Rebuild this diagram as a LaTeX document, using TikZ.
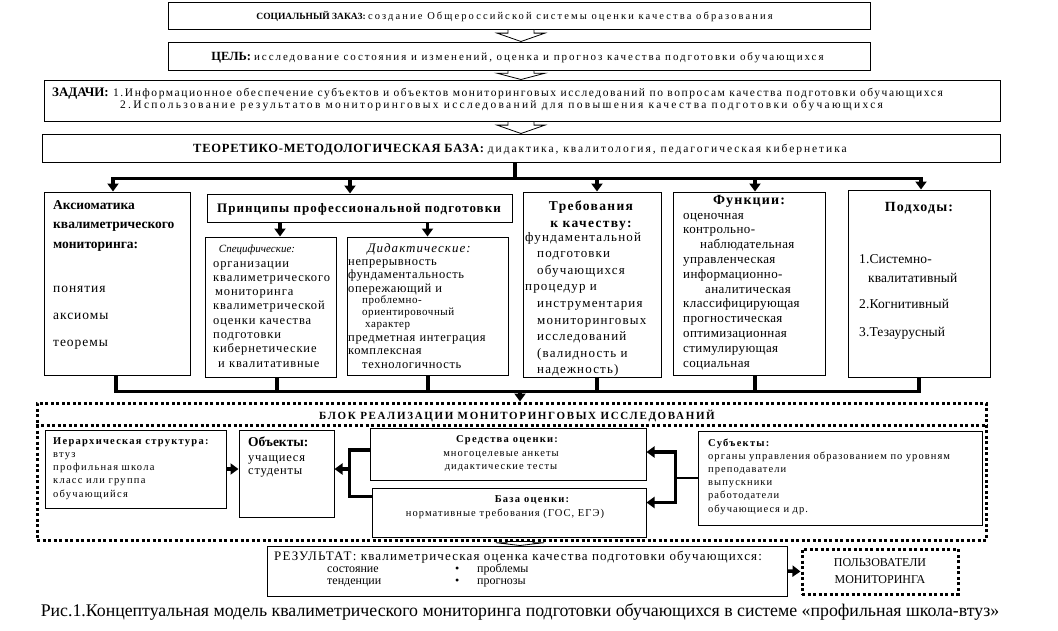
\documentclass[tikz,border=0pt]{standalone}
\usepackage{fontspec}
\setmainfont{Liberation Serif}
\usetikzlibrary{arrows.meta,calc,fit}
\newcommand\fs[2]{\fontsize{#1}{#2}\selectfont}
\newcommand\lsp[1]{\addfontfeatures{LetterSpace=#1}}
\newcommand\harrow[3]{%
  \draw[hollow] let \p1=(#1.south), \p2=(#2.north), \n1={0.3*(\y1-\y2)} in
  ({#3pt-13pt},\y1) -- ({#3pt+13pt},\y1) -- ({#3pt+13pt},{\y1-\n1*1pt}) --
  ({#3pt+24pt},{\y1-\n1*1pt}) -- (#3pt,\y2) -- ({#3pt-24pt},{\y1-\n1*1pt}) --
  ({#3pt-13pt},{\y1-\n1*1pt}) -- cycle;}
\begin{document}
\begin{tikzpicture}[x=1pt,y=-1pt,
  box/.style={draw, line width=1pt, inner sep=0pt},
  dbox/.style={draw, line width=3pt, dash pattern=on 3pt off 2.5pt, inner sep=0pt},
  dline/.style={line width=3pt, dash pattern=on 3pt off 2.5pt},
  txt/.style={inner sep=0pt, anchor=base west, align=left, text width=280pt},
  ltxt/.style={inner sep=0pt, anchor=base west},
  ctxt/.style={inner sep=0pt, anchor=base},
  ctxtw/.style={inner sep=0pt, anchor=base, align=center, text width=200pt},
  bus/.style={line width=3.5pt},
  barr/.style={line width=3.5pt, -{Triangle[width=11pt,length=8pt]}},
  hollow/.style={draw, fill=white, line width=0.8pt}]
\fill[white] (0,0) rectangle (1058,630);
\useasboundingbox (0,0) rectangle (1058,630);

% ---------- top boxes ----------
\node[box, fit={(168,2) (870,29)}] (zakaz) {};
\node[box, fit={(168,42) (870,70)}] (cel) {};
\node[box, fit={(44,80) (1000,121)}] (zad) {};
\node[box, fit={(42,134) (1000,162)}] (teor) {};
\harrow{zakaz}{cel}{521}
\harrow{cel}{zad}{521}
\harrow{zad}{teor}{521}

\node[ctxt] (t1) at (514.5,19) {\fs{9.5}{12}\bfseries СОЦИАЛЬНЫЙ ЗАКАЗ: \mdseries\fs{10.5}{12}\lsp{20}создание Общероссийской системы оценки качества образования};
\node[ctxt] (t2) at (517.5,60) {\fs{12.5}{14}\bfseries ЦЕЛЬ: \mdseries\fs{11}{14}\lsp{17.5}исследование состояния и изменений, оценка и прогноз качества подготовки обучающихся};
\node[ltxt] (t3a) at (52,96) {\fs{13}{12}\bfseries ЗАДАЧИ:};
\node[ltxt] (t3b) at (113,96) {\fs{11.5}{12}\lsp{13.5}1.Информационное обеспечение субъектов и объектов мониторинговых исследований по вопросам качества подготовки обучающихся};
\node[ltxt] (t3c) at (120,108) {\fs{11.5}{12}\lsp{20}2.Использование результатов мониторинговых исследований для повышения качества подготовки обучающихся};
\node[ctxt] (t4) at (520,152) {\fs{12.5}{14}\bfseries\lsp{6}ТЕОРЕТИКО-МЕТОДОЛОГИЧЕСКАЯ БАЗА: \mdseries\fs{11.5}{14}\lsp{17}дидактика, квалитология, педагогическая кибернетика};

% ---------- middle row ----------
\node[box, fit={(44,192) (190,375)}] (aks) {};
\node[box, fit={(207,194) (512,222)}] (prh) {};
\node[box, fit={(205,237) (336,377)}] (spec) {};
\node[box, fit={(347,237) (508,375)}] (did) {};
\node[box, fit={(523,192) (661,377)}] (treb) {};
\node[box, fit={(673,192) (825,375)}] (func) {};
\node[box, fit={(848,190) (990,377)}] (podh) {};

\node[txt, font={\fs{13.5}{19.5}\bfseries}] (aksT) at (53,209) {Аксиоматика\\квалиметрического\\мониторинга:};
\node[txt, font={\fs{13.5}{27}\lsp{7}}] (aksL) at (53,292) {понятия\\аксиомы\\теоремы};

\node[ctxt, font={\fs{13}{15}\bfseries\lsp{8}}] (prT) at (359,212) {Принципы профессиональной подготовки};

\node[ctxt, font={\fs{11}{14}\itshape}] (specH) at (257,252) {Специфические:};
\node[txt, font={\fs{12.5}{14.3}\lsp{7}}] (specL) at (213,267) {организации\\квалиметрического\\\hspace*{2pt}мониторинга\\квалиметрической\\оценки качества\\подготовки\\кибернетические\\\hspace*{5pt}и квалитативные};

\node[ctxt, font={\fs{13}{14}\itshape\lsp{8}}] (didH) at (419,252) {Дидактические:};
\node[txt, font={\fs{12.5}{13.5}\lsp{5}}] (didA) at (348,265) {непрерывность\\фундаментальность\\опережающий и};
\node[txt, font={\fs{11}{12}\lsp{5}}] (didB) at (362,303.5) {проблемно-\\ориентировочный\\\hspace*{3pt}характер};
\node[txt, font={\fs{12.5}{13.5}\lsp{5}}] (didC) at (348,341) {предметная интеграция\\комплексная\\\hspace*{14pt}технологичность};

\node[ctxtw, font={\fs{13.5}{17}\bfseries\lsp{10}}] (trebH) at (591,210) {Требования\\к качеству:};
\node[txt, font={\fs{13}{16.6}\lsp{9}}] (trebL) at (525,241) {фундаментальной\\\hspace*{12pt}подготовки\\\hspace*{12pt}обучающихся\\процедур и\\\hspace*{12pt}инструментария\\\hspace*{12pt}мониторинговых\\\hspace*{12pt}исследований\\\hspace*{12pt}(валидность и\\\hspace*{12pt}надежность)};

\node[ctxt, font={\fs{14}{15}\bfseries\lsp{8}}] (funcH) at (749,204) {Функции:};
\node[txt, font={\fs{13}{14.8}\lsp{3}}] (funcL) at (683,219) {оценочная\\контрольно-\\\hspace*{17pt}наблюдательная\\управленческая\\информационно-\\\hspace*{22pt}аналитическая\\классифицирующая\\прогностическая\\оптимизационная\\стимулирующая\\социальная};

\node[ctxt, font={\fs{14}{15}\bfseries\lsp{8}}] (podhH) at (919,211) {Подходы:};
\node[txt, font={\fs{13.5}{19}\lsp{1}}] (podhL) at (859,263) {1.Системно-\\\hspace*{9pt}квалитативный\\[7pt]2.Когнитивный\\[9pt]3.Тезаурусный};

% top bus
\coordinate (b1) at ($(teor.south)+(0,16)$);
\coordinate (u0) at ($(teor.south)+(-6,0)$);
\coordinate (u1) at ($(aks.north)+(-4,0)$);
\coordinate (u2) at ($(prh.north)+(-9.5,0)$);
\coordinate (u3) at ($(treb.north)+(5,0)$);
\coordinate (u4) at ($(func.north)+(6,0)$);
\coordinate (u5) at ($(podh.north)+(2,0)$);
\draw[bus] (u0) -- (u0 |- b1);
\draw[bus, line cap=rect] (u1 |- b1) -- (u5 |- b1);
\foreach \u in {u1,u2,u3,u4,u5} \draw[barr] (\u |- b1) -- (\u);

% principles arrows
\coordinate (p1) at ($(spec.north)+(9.5,0)$);
\coordinate (p2) at (did.north);
\draw[barr] (p1 |- prh.south) -- (p1);
\draw[barr] (p2 |- prh.south) -- (p2);

% ---------- realisation block ----------
\node[dbox, fit={(37,403) (986,540)}] (blk) {};
\draw[dline] ($(blk.north west)+(0,24)$) -- ($(blk.north east)+(0,24)$);
\node[ctxt, font={\fs{11}{13}\bfseries\lsp{15}}] (blkT) at (517,419) {БЛОК РЕАЛИЗАЦИИ МОНИТОРИНГОВЫХ ИССЛЕДОВАНИЙ};

% bottom bus
\coordinate (b2) at ($(treb.south)+(0,14)$);
\coordinate (d1) at ($(aks.south)+(-1,0)$);
\coordinate (d2) at ($(spec.south)+(6.5,0)$);
\coordinate (d3) at ($(did.south)+(0.5,0)$);
\coordinate (d4) at ($(treb.south)+(5,0)$);
\coordinate (d5) at ($(func.south)+(6,0)$);
\coordinate (d6) at (podh.south);
\foreach \d in {d1,d2,d3,d4,d5,d6} \draw[bus] (\d) -- (\d |- b2);
\draw[bus, line cap=rect] (d1 |- b2) -- (d6 |- b2);
\coordinate (dm) at ($(blk.north)+(8.5,0)$);
\draw[barr] (dm |- b2) -- (dm);

\node[box, fit={(45,430) (226,508)}] (ier) {};
\node[box, fit={(239,430) (334,517)}] (obj) {};
\node[box, fit={(370,428) (646,480)}] (sred) {};
\node[box, fit={(372,488) (646,537)}] (baza) {};
\node[box, fit={(698,431) (982,525)}] (subj) {};

\node[ltxt, font={\fs{10.5}{13.4}\bfseries\lsp{12}}] (ierT) at (53,444) {Иерархическая структура:};
\node[txt, font={\fs{10.5}{13.4}\lsp{12}}] (ierL) at (53,457) {втуз\\профильная школа\\класс или группа\\обучающийся};
\node[ltxt, font={\fs{13.5}{15}\bfseries}] (objT) at (248,446) {Объекты:};
\node[txt, font={\fs{12.5}{13.5}\lsp{6}}] (objL) at (248,461) {учащиеся\\студенты};
\node[ctxt, font={\fs{10.5}{13}\bfseries\lsp{12}}] (sredT) at (507,442) {Средства оценки:};
\node[ctxtw, font={\fs{10.5}{13.3}\lsp{10}}] (sredL) at (501,456) {многоцелевые анкеты\\дидактические тесты};
\node[ctxt, font={\fs{10.5}{13}\bfseries\lsp{12}}] (bazaT) at (532,502) {База оценки:};
\node[ctxt, font={\fs{10.5}{13}\lsp{10}}] (bazaL) at (505,516) {нормативные требования (ГОС, ЕГЭ)};
\node[ltxt, font={\fs{10.5}{13}\bfseries\lsp{12}}] (subjT) at (708,446) {Субъекты:};
\node[txt, font={\fs{10.5}{13.3}\lsp{10}}] (subjL) at (708,459) {органы управления образованием по уровням\\преподаватели\\выпускники\\работодатели\\обучающиеся и др.};

% inner connectors
\draw[barr] (ier.east) -- (ier.east -| obj.west);
\coordinate (j1) at ($(sred.west)+(-20,-4)$);
\coordinate (j2) at ($(baza.north west)+(-22,9)$);
\draw[bus] (j1 -| sred.west) -- (j1) -- (j2) -- (j2 -| baza.west);
\draw[barr] (j1 |- ier.east) -- (obj.east |- ier.east);
\coordinate (k1) at ($(subj.west)+(-23,0)$);
\coordinate (k2) at ($(sred.east)+(29,-2)$);
\coordinate (k3) at ($(baza.north east)+(29,15)$);
\draw[line width=2pt] (subj.west) -- (k1);
\draw[bus, line cap=rect] (k2) -- (k3);
\draw[barr] (k2) -- (k2 -| sred.east);
\draw[barr] (k3) -- (k3 -| baza.east);

% ---------- result ----------
\node[box, fit={(267,546) (787,596)}] (res) {};
\node[dbox, fit={(802,549) (958,594)}] (pol) {};
\harrow{blk}{res}{520}
\draw[barr] (res.east) -- (pol.west);

\node[ltxt, font={\fs{13}{12}\lsp{9}}] (resT) at (274,560) {РЕЗУЛЬТАТ: квалиметрическая оценка качества подготовки обучающихся:};
\node[txt, font={\fs{12}{12}}] (resA) at (327,572) {состояние\\тенденции};
\node[txt, font={\fs{12}{12}}] (resB) at (455,572) {•\\•};
\node[txt, font={\fs{12}{12}}] (resC) at (477,572) {проблемы\\прогнозы};
\node[ctxtw, font={\fs{12}{17}}] (polT) at (880,566) {ПОЛЬЗОВАТЕЛИ\\МОНИТОРИНГА};

\node[ctxt, font={\fs{17.8}{20}}] (cap) at (520,616) {Рис.1.Концептуальная модель квалиметрического мониторинга подготовки обучающихся в системе «профильная школа-втуз»};
\end{tikzpicture}
\end{document}
